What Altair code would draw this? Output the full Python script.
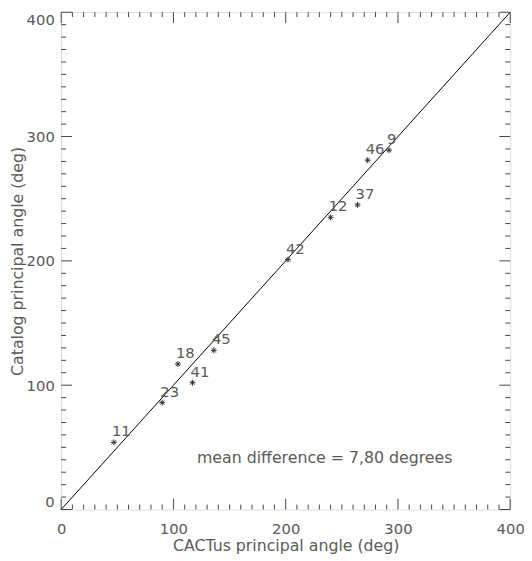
import altair as alt
import pandas as pd

# ---- data ----
ids = ["11", "23", "18", "41", "45", "42", "12", "37", "46", "9"]
cactus = [47, 90, 104, 117, 136, 202, 240, 264, 273, 292]
catalog = [54, 86, 117, 102, 128, 201, 235, 245, 281, 289]

diag = [0, 400]
tick_labels = [0, 100, 200, 300, 400]
minor_ticks = [v for v in range(0, 401, 10) if v % 100 != 0]
major_ticks = [0, 100, 200, 300, 400]
note = "mean difference = 7,80 degrees"
note_x, note_y = 121, 41.5

W, H = 456, 505
FONT = "DejaVu Sans"
TXT = "#5a5a5a"
INK = "#222222"

pts = pd.DataFrame({"id": ids, "cx": cactus, "cy": catalog})
line_df = pd.DataFrame({"cx": diag, "cy": diag})

dom = [0, 400]
xaxis = alt.Axis(values=tick_labels, ticks=False, tickSize=0, domain=False, grid=False,
                 labelFont=FONT, labelFontSize=15, labelColor=TXT, labelPadding=12,
                 labelFlush=False, labelOverlap=False,
                 title="CACTus principal angle (deg)", titleFont=FONT, titleFontSize=16,
                 titleFontWeight="normal", titleColor=TXT, titleBaseline="alphabetic",
                 titleY=42)
yaxis = alt.Axis(values=tick_labels, ticks=False, tickSize=0, domain=False, grid=False,
                 labelFont=FONT, labelFontSize=15, labelColor=TXT, labelPadding=7,
                 labelFlush=True, labelOverlap=False,
                 title="Catalog principal angle (deg)", titleFont=FONT, titleFontSize=16,
                 titleFontWeight="normal", titleColor=TXT, titleBaseline="top",
                 titleAngle=270, titleX=-52, titleY=H / 2)


def X(field):
    return alt.X(f"{field}:Q", scale=alt.Scale(domain=dom, nice=False, zero=False), axis=xaxis)


def Y(field):
    return alt.Y(f"{field}:Q", scale=alt.Scale(domain=dom, nice=False, zero=False), axis=yaxis)


diag_line = alt.Chart(line_df).mark_line(color="black", strokeWidth=1).encode(x=X("cx"), y=Y("cy"))

star = "M-1,0L1,0M0,-1L0,1M-0.7,-0.7L0.7,0.7M-0.7,0.7L0.7,-0.7"
points = alt.Chart(pts).mark_point(shape=star, size=36, filled=False, stroke="#333333",
                                   strokeWidth=1, opacity=1).encode(x=X("cx"), y=Y("cy"))

labels = alt.Chart(pts).mark_text(align="left", baseline="alphabetic", dx=-2, dy=-6,
                                  font=FONT, fontSize=15, color=TXT).encode(
    x=X("cx"), y=Y("cy"), text="id:N")

note_df = pd.DataFrame({"cx": [note_x], "cy": [note_y], "t": [note]})
note_layer = alt.Chart(note_df).mark_text(align="left", baseline="middle", font=FONT,
                                          fontSize=16, color=TXT).encode(
    x=X("cx"), y=Y("cy"), text="t:N")

tick_layers = []
for vals, L in [(minor_ticks, 5), (major_ticks, 11)]:
    tdf = pd.DataFrame({"t": vals})
    base = alt.Chart(tdf).mark_rule(color="#444444", strokeWidth=1)
    tick_layers.append(base.encode(x=X("t"), y=alt.value(H), y2=alt.value(H - L)))
    tick_layers.append(base.encode(x=X("t"), y=alt.value(0), y2=alt.value(L)))
    tick_layers.append(base.encode(y=Y("t"), x=alt.value(0), x2=alt.value(L)))
    tick_layers.append(base.encode(y=Y("t"), x=alt.value(W), x2=alt.value(W - L)))

chart = alt.layer(diag_line, *tick_layers, points, labels, note_layer).properties(
    width=W, height=H,
    autosize=alt.AutoSizeParams(type="none"),
    padding={"left": 54, "top": 0, "right": 14, "bottom": 48},
).configure_view(stroke=INK, strokeWidth=1).configure(background="white")

chart.save("out.html", embed_options={"renderer": "svg", "actions": False})
